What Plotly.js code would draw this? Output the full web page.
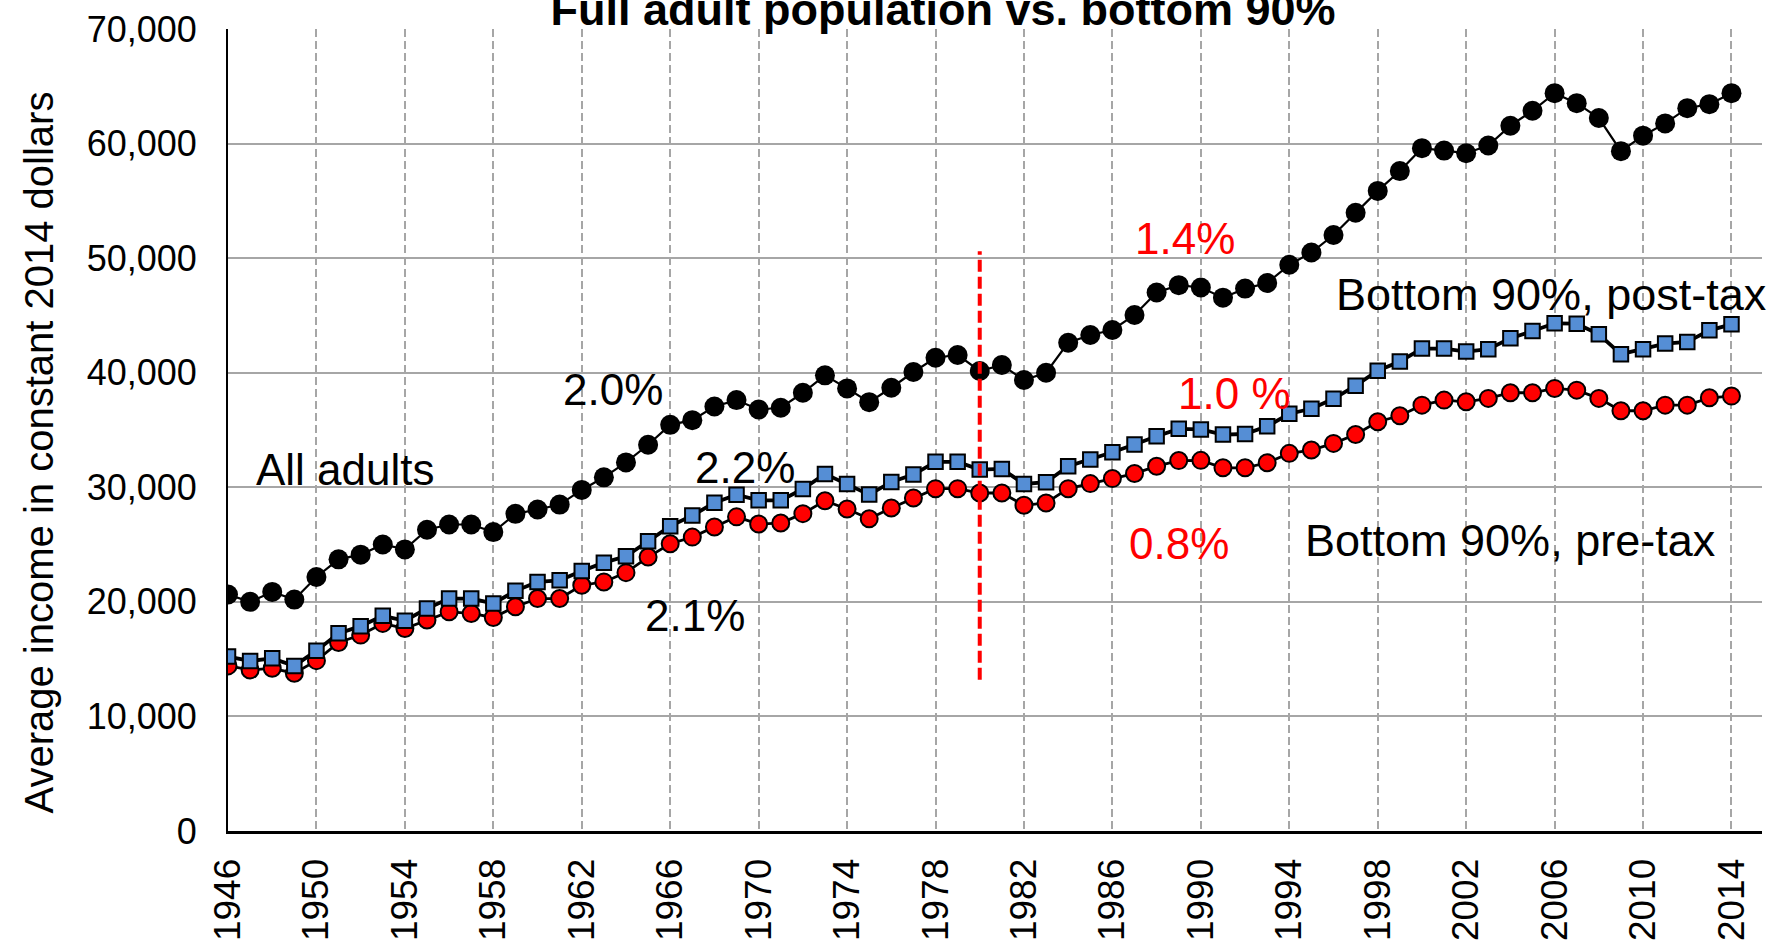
<!DOCTYPE html>
<html>
<head>
<meta charset="utf-8">
<script src="https://cdn.plot.ly/plotly-3.0.1.min.js"></script>
<style>
  html, body { margin: 0; padding: 0; background: #ffffff; }
  #chart { width: 1775px; height: 948px; }
</style>
</head>
<body>
<div id="chart"></div>
<script>
// ---- Data ----
const years = [];
for (let y = 1946; y <= 2014; y++) years.push(y);

const allAdults = [
  20640, 20000, 20870, 20200, 22170, 23710, 24120, 25010, 24580, 26290,
  26750, 26750, 26090, 27680, 28060, 28490, 29770, 30870, 32170, 33710,
  35450, 35860, 37050, 37610, 36790, 36940, 38250, 39770, 38630, 37430,
  38690, 40060, 41310, 41550, 40150, 40670, 39360, 40000, 42620, 43290,
  43730, 45040, 47000, 47640, 47440, 46550, 47340, 47830, 49420, 50490,
  52020, 53960, 55870, 57600, 59600, 59390, 59160, 59830, 61560, 62860,
  64400, 63530, 62230, 59340, 60690, 61760, 63090, 63440, 64400
];

const bottom90PostTax = [
  15220, 14840, 15070, 14410, 15740, 17250, 17880, 18780, 18350, 19420,
  20290, 20290, 19860, 20960, 21740, 21880, 22700, 23420, 23970, 25300,
  26610, 27540, 28650, 29350, 28860, 28860, 29850, 31170, 30290, 29360,
  30470, 31110, 32220, 32220, 31550, 31600, 30290, 30440, 31840, 32420,
  33060, 33730, 34460, 35100, 35050, 34600, 34650, 35320, 36420, 36850,
  37720, 38870, 40170, 40980, 42110, 42110, 41850, 42050, 43010, 43640,
  44310, 44280, 43350, 41620, 42050, 42540, 42690, 43700, 44220
];

const bottom90PreTax = [
  14410, 14060, 14200, 13770, 14870, 16460, 17100, 18120, 17680, 18410,
  19130, 18990, 18640, 19570, 20290, 20290, 21450, 21740, 22550, 23910,
  25070, 25650, 26530, 27420, 26790, 26880, 27700, 28830, 28100, 27260,
  28190, 29070, 29880, 29880, 29500, 29500, 28430, 28630, 29880, 30320,
  30760, 31200, 31840, 32330, 32350, 31700, 31700, 32140, 32960, 33250,
  33830, 34610, 35720, 36240, 37170, 37610, 37460, 37760, 38250, 38250,
  38630, 38480, 37760, 36680, 36680, 37170, 37170, 37810, 37960
];

const xTickVals = [1946, 1950, 1954, 1958, 1962, 1966, 1970, 1974, 1978, 1982,
                   1986, 1990, 1994, 1998, 2002, 2006, 2010, 2014];
const xTickText = xTickVals.map(String);
const yTickVals = [0, 10000, 20000, 30000, 40000, 50000, 60000, 70000];
const yTickText = ["0", "10,000", "20,000", "30,000", "40,000", "50,000", "60,000", "70,000"];

const breakYear = [1980];
const breakRange = [13200, 50600];

// ---- Chart ----
const FONT = "Arial, 'Liberation Sans', Helvetica, sans-serif";

const traces = [
  {
    name: "All adults",
    x: years, y: allAdults,
    type: "scatter", mode: "lines+markers",
    line: { color: "#000000", width: 2.2 },
    marker: { symbol: "circle", size: 20, color: "#000000", line: { color: "#000000", width: 0 } },
    hoverinfo: "x+y"
  },
  {
    name: "Bottom 90%, pre-tax",
    x: years, y: bottom90PreTax,
    type: "scatter", mode: "lines+markers",
    line: { color: "#000000", width: 2.8 },
    marker: { symbol: "circle", size: 17, color: "#ff0000", line: { color: "#000000", width: 2 } },
    hoverinfo: "x+y"
  },
  {
    name: "Bottom 90%, post-tax",
    x: years, y: bottom90PostTax,
    type: "scatter", mode: "lines+markers",
    line: { color: "#000000", width: 3.8 },
    marker: { symbol: "square", size: 14.5, color: "#558ed5", line: { color: "#000000", width: 2 } },
    hoverinfo: "x+y"
  }
];

const ann = (text, x, y, color, xanchor, size) => ({
  text: text, x: x, y: y, xref: "x", yref: "y",
  xanchor: xanchor || "center", yanchor: "middle",
  showarrow: false,
  font: { family: FONT, size: size || 44, color: color }
});

const layout = {
  width: 1775, height: 948,
  paper_bgcolor: "#ffffff", plot_bgcolor: "#ffffff",
  margin: { l: 228, r: 13, t: 29, b: 117, pad: 0 },
  showlegend: false,
  font: { family: FONT, color: "#000000" },
  title: {
    text: "<b>Full adult population vs. bottom 90%</b>",
    font: { family: FONT, size: 45, color: "#000000" },
    xref: "container", yref: "container",
    x: 943 / 1775, xanchor: "center",
    y: 1 - 25 / 948, yanchor: "bottom"
  },
  xaxis: {
    range: [1946, 2015.38],
    tickmode: "array", tickvals: xTickVals, ticktext: xTickText,
    tickangle: -90,
    tickfont: { family: FONT, size: 37, color: "#000000" },
    ticks: "", ticklabelstandoff: 10,
    showgrid: true, gridcolor: "#a6a6a6", gridwidth: 2, griddash: "8px,4px",
    showline: true, linecolor: "#000000", linewidth: 3,
    zeroline: false, fixedrange: true
  },
  yaxis: {
    range: [0, 70000],
    tickmode: "array", tickvals: yTickVals, ticktext: yTickText,
    tickfont: { family: FONT, size: 36, color: "#000000" },
    ticks: "", ticklabelstandoff: 22,
    showgrid: true, gridcolor: "#a6a6a6", gridwidth: 2,
    showline: true, linecolor: "#000000", linewidth: 2,
    zeroline: false, fixedrange: true
  },
  shapes: [
    {
      type: "line", xref: "x", yref: "y",
      x0: breakYear[0], x1: breakYear[0], y0: breakRange[0], y1: breakRange[1],
      line: { color: "#ff0000", width: 4, dash: "12px,5px" }
    }
  ],
  annotations: [
    {
      text: "Average income in constant 2014 dollars",
      xref: "paper", yref: "paper",
      x: (38.5 - 228) / 1534, y: (831 - 453) / 802,
      xanchor: "center", yanchor: "middle",
      textangle: -90, showarrow: false,
      font: { family: FONT, size: 40, color: "#000000" }
    },
    ann("All adults", 1951.3, 31580, "#000000"),
    ann("2.0%", 1963.4, 38560, "#000000"),
    ann("2.2%", 1969.4, 31750, "#000000"),
    ann("2.1%", 1967.1, 18840, "#000000"),
    ann("1.4%", 1989.3, 51730, "#ff0000"),
    ann("1.0 %", 1991.5, 38210, "#ff0000"),
    ann("0.8%", 1989.0, 25120, "#ff0000"),
    ann("Bottom 90%, post-tax", 1996.0, 46840, "#000000", "left", 45),
    ann("Bottom 90%, pre-tax", 1994.6, 25380, "#000000", "left", 45)
  ]
};

Plotly.newPlot("chart", traces, layout, { displayModeBar: false, staticPlot: false, responsive: false });
</script>
</body>
</html>
